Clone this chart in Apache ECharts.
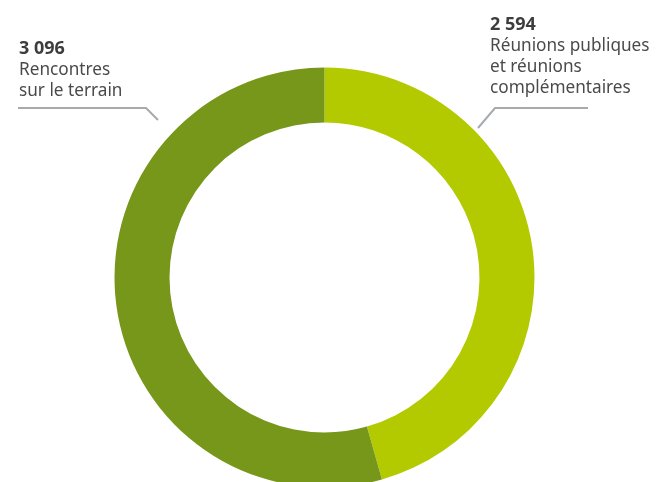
<!DOCTYPE html>
<html><head><meta charset="utf-8">
<script src="https://cdn.jsdelivr.net/npm/echarts@6/dist/echarts.min.js"></script>
<style>html,body{margin:0;padding:0;background:#fff}#c{width:656px;height:482px}</style>
</head><body><div id="c"></div>
<script>
const categories = ['Réunions publiques\net réunions\ncomplémentaires', 'Rencontres\nsur le terrain'];
const values = [2594, 3096];
const valueLabels = ['2 594', '3 096'];
const colors = ['#b3ca00', '#77971a'];

const chart = echarts.init(document.getElementById('c'));
chart.setOption({
  animation: false,
  series: [{
    type: 'pie',
    center: [324.5, 277.5],
    radius: [155, 210],
    startAngle: 90,
    clockwise: true,
    silent: true,
    data: categories.map((c, i) => ({name: c, value: values[i], itemStyle: {color: colors[i]}})),
    label: {
      show: true,
      position: 'outside',
      overflow: 'none',
      formatter: p => '{v|' + valueLabels[p.dataIndex] + '}\n' + p.name.split('\n').map(s => '{t|' + s + '}').join('\n'),
      rich: {
        v: {fontFamily: 'Noto Sans', fontWeight: 'bold', fontSize: 18, color: '#3d3d3d', lineHeight: 21},
        t: {fontFamily: 'Noto Sans', fontSize: 17.2, color: '#4a4a4a', lineHeight: 21}
      },
      align: 'left'
    },
    labelLine: {show: true, lineStyle: {color: '#a7abad', width: 2}},
    labelLayout: function (params) {
      if (params.dataIndex === 1) {
        return {x: 19, y: 38.5, align: 'left', verticalAlign: 'top',
          labelLinePoints: [[158, 120], [146, 108], [18, 108]]};
      }
      return {x: 490, y: 14.5, align: 'left', verticalAlign: 'top',
        labelLinePoints: [[478, 128], [495, 108], [588, 108]]};
    }
  }]
});
</script></body></html>
